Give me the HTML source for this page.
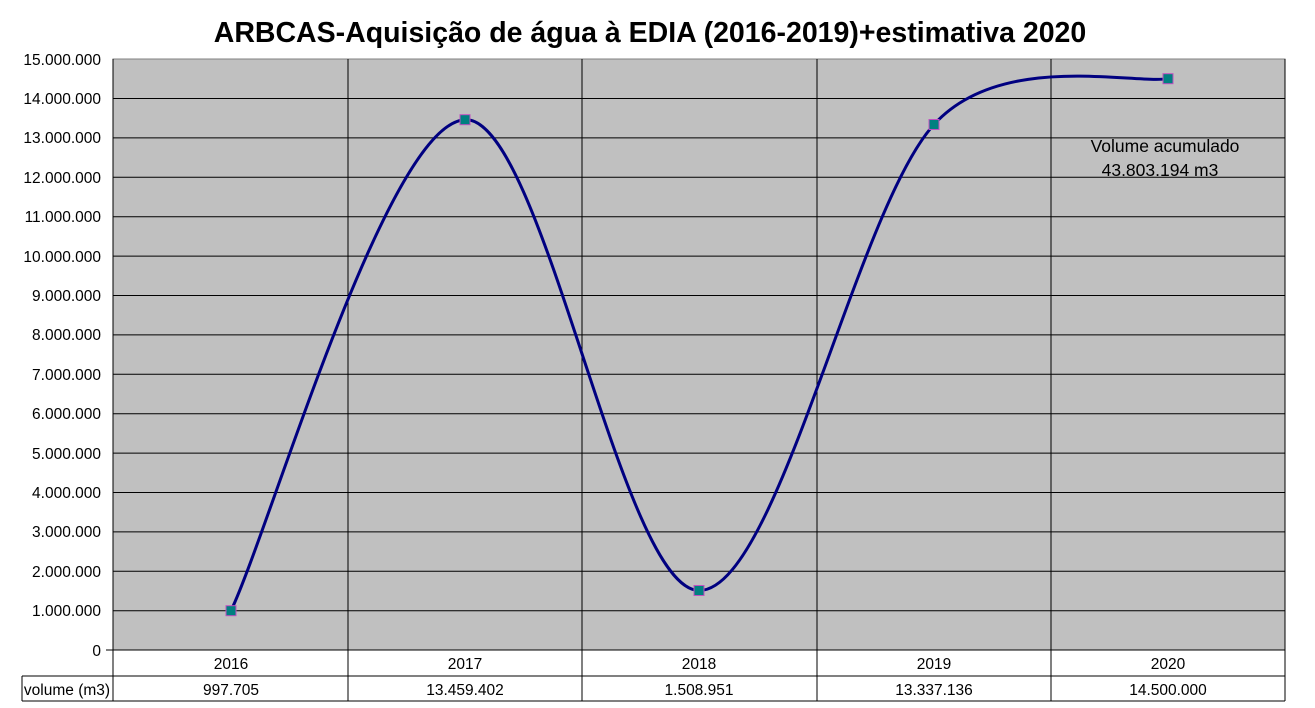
<!DOCTYPE html>
<html><head><meta charset="utf-8"><style>body{margin:0;background:#fff}svg{display:block}text{font-family:"Liberation Sans",Arial,sans-serif}</style></head><body>
<svg width="1315" height="708" viewBox="0 0 1315 708" xmlns="http://www.w3.org/2000/svg">
<rect width="1315" height="708" fill="#fff"/>
<text x="650" y="42" font-size="28.5" font-weight="bold" text-anchor="middle">ARBCAS-Aquisição de água à EDIA (2016-2019)+estimativa 2020</text>
<rect x="113" y="59" width="1172" height="591" fill="#c0c0c0" stroke="#808080"/>
<g stroke="#000" stroke-width="1">
<line x1="113" y1="98.5" x2="1285" y2="98.5"/><line x1="113" y1="137.9" x2="1285" y2="137.9"/><line x1="113" y1="177.3" x2="1285" y2="177.3"/><line x1="113" y1="216.7" x2="1285" y2="216.7"/><line x1="113" y1="256.1" x2="1285" y2="256.1"/><line x1="113" y1="295.5" x2="1285" y2="295.5"/><line x1="113" y1="334.9" x2="1285" y2="334.9"/><line x1="113" y1="374.3" x2="1285" y2="374.3"/><line x1="113" y1="413.7" x2="1285" y2="413.7"/><line x1="113" y1="453.1" x2="1285" y2="453.1"/><line x1="113" y1="492.5" x2="1285" y2="492.5"/><line x1="113" y1="531.9" x2="1285" y2="531.9"/><line x1="113" y1="571.3" x2="1285" y2="571.3"/><line x1="113" y1="610.7" x2="1285" y2="610.7"/>
<line x1="348" y1="59" x2="348" y2="701"/><line x1="582" y1="59" x2="582" y2="701"/><line x1="817" y1="59" x2="817" y2="701"/><line x1="1051" y1="59" x2="1051" y2="701"/>
<line x1="106" y1="650" x2="1285" y2="650"/>
<line x1="113" y1="59" x2="113" y2="701"/><line x1="1285" y1="59" x2="1285" y2="701"/>
<line x1="22" y1="676" x2="1285" y2="676"/><line x1="22" y1="701" x2="1285" y2="701"/><line x1="22" y1="676" x2="22" y2="701"/>
</g>
<g font-size="15.5" text-anchor="end">
<text x="101" y="65">15.000.000</text><text x="101" y="104">14.000.000</text><text x="101" y="143">13.000.000</text><text x="101" y="183">12.000.000</text><text x="101" y="222">11.000.000</text><text x="101" y="262">10.000.000</text><text x="101" y="301">9.000.000</text><text x="101" y="340">8.000.000</text><text x="101" y="380">7.000.000</text><text x="101" y="419">6.000.000</text><text x="101" y="459">5.000.000</text><text x="101" y="498">4.000.000</text><text x="101" y="537">3.000.000</text><text x="101" y="577">2.000.000</text><text x="101" y="616">1.000.000</text><text x="101" y="656">0</text>
</g>
<g font-size="15.5" text-anchor="middle">
<text x="231" y="669">2016</text><text x="465" y="669">2017</text><text x="699" y="669">2018</text><text x="934" y="669">2019</text><text x="1168" y="669">2020</text>
<text x="231" y="695">997.705</text><text x="465" y="695">13.459.402</text><text x="699" y="695">1.508.951</text><text x="934" y="695">13.337.136</text><text x="1168" y="695">14.500.000</text>
<text x="67" y="695">volume (m3)</text>
</g>
<g font-size="17.5" text-anchor="middle">
<text x="1165" y="152">Volume acumulado</text><text x="1160" y="176">43.803.194 m3</text>
</g>
<path d="M231,610.7 C270,528.9 387,123.1 465,119.7 C543,116.3 620.8,589.7 699,590.5 C777.2,591.3 855.8,209.8 934,124.5 C1000,52 1129,84 1168,78.7" fill="none" stroke="#000080" stroke-width="3"/>
<g fill="#008080" stroke="#c050c0" stroke-width="1">
<rect x="226" y="605.7" width="10" height="10"/><rect x="460" y="114.7" width="10" height="10"/><rect x="694" y="585.5" width="10" height="10"/><rect x="929" y="119.5" width="10" height="10"/><rect x="1163" y="73.7" width="10" height="10"/>
</g>
</svg>
</body></html>
